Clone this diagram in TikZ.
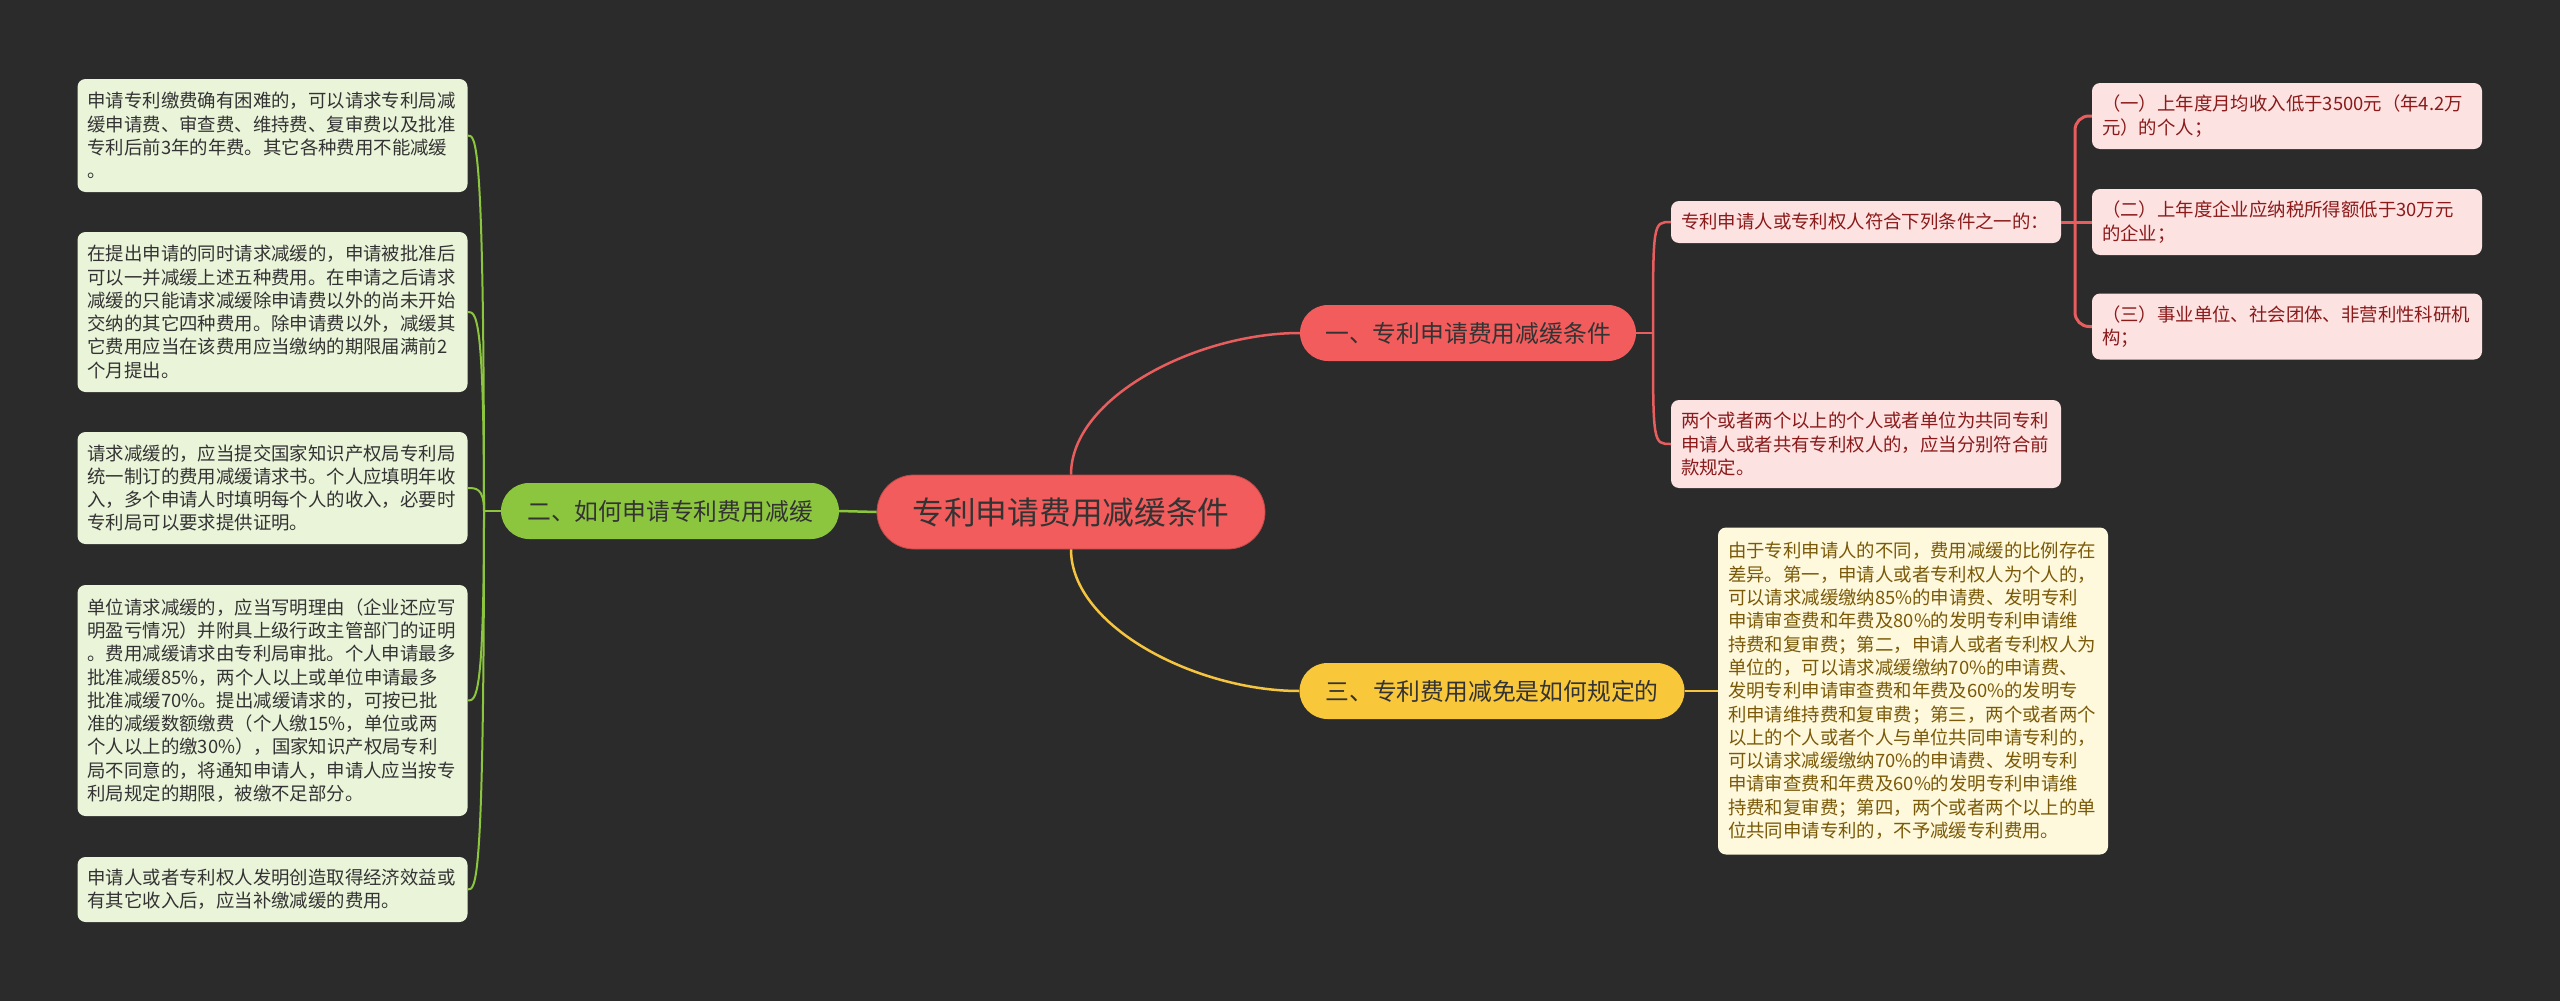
\documentclass[tikz,border=0pt]{standalone}
\usepackage{fontspec}
\setmainfont{Noto Sans CJK SC}
\definecolor{bg}{HTML}{2B2B2B}
\definecolor{cred}{HTML}{F25C5C}
\definecolor{lred}{HTML}{E85D5D}
\definecolor{cgreen}{HTML}{8CC63E}
\definecolor{cyellow}{HTML}{F9C73A}
\definecolor{lyel}{HTML}{F5C542}
\definecolor{lgreen}{HTML}{EAF4D9}
\definecolor{lpink}{HTML}{FDE2E2}
\definecolor{lyellow}{HTML}{FEF8DC}
\definecolor{tred}{HTML}{8B1A1A}
\definecolor{tyel}{HTML}{7A5A08}
\definecolor{tdark}{HTML}{333333}
\begin{document}
\begin{tikzpicture}[x=1pt,y=-1pt,
  leafbase/.style={rounded corners=8pt, inner xsep=10pt, inner ysep=0pt, align=left,
    text width=370pt, anchor=center, font=\fontsize{18.4pt}{23.3pt}\selectfont},
  leafg/.style={leafbase, fill=lgreen, text=tdark},
  leafp/.style={leafbase, fill=lpink, text=tred},
  leafy/.style={leafbase, fill=lyellow, text=tyel},
  pill/.style={rounded corners=28pt, inner sep=0pt, align=center, text=tdark,
    minimum height=56pt, font=\fontsize{23.8pt}{28pt}\selectfont},
  conn/.style={line width=2.5pt},
]
\fill[bg] (0,0) rectangle (2560,1001);
\useasboundingbox (0,0) rectangle (2560,1001);

% center and branches
\node[pill, fill=cred, draw=cred!80!black, line width=0.8pt, rounded corners=37pt,
  minimum width=388pt, minimum height=74pt, font=\fontsize{31.7pt}{36pt}\selectfont]
  (c) at (1071,512) {专利申请费用减缓条件};
\node[pill, fill=cred, minimum width=336pt] (b1) at (1468,333) {一、专利申请费用减缓条件};
\node[pill, fill=cgreen, minimum width=338pt] (b2) at (670,511) {二、如何申请专利费用减缓};
\node[pill, fill=cyellow, minimum width=385pt] (b3) at (1492,691) {三、专利费用减免是如何规定的};

% left leaves
\node[leafg, minimum height=113pt] (L1) at (272.5,135.5) {申请专利缴费确有困难的，可以请求专利局减\\缓申请费、审查费、维持费、复审费以及批准\\专利后前3年的年费。其它各种费用不能减缓\\。};
\node[leafg, minimum height=160pt] (L2) at (272.5,312) {在提出申请的同时请求减缓的，申请被批准后\\可以一并减缓上述五种费用。在申请之后请求\\减缓的只能请求减缓除申请费以外的尚未开始\\交纳的其它四种费用。除申请费以外，减缓其\\它费用应当在该费用应当缴纳的期限届满前2\\个月提出。};
\node[leafg, minimum height=112pt] (L3) at (272.5,488) {请求减缓的，应当提交国家知识产权局专利局\\统一制订的费用减缓请求书。个人应填明年收\\入，多个申请人时填明每个人的收入，必要时\\专利局可以要求提供证明。};
\node[leafg, minimum height=231pt] (L4) at (272.5,700.5) {单位请求减缓的，应当写明理由（企业还应写\\明盈亏情况）并附具上级行政主管部门的证明\\。费用减缓请求由专利局审批。个人申请最多\\批准减缓85\%，两个人以上或单位申请最多\\批准减缓70\%。提出减缓请求的，可按已批\\准的减缓数额缴费（个人缴15\%，单位或两\\个人以上的缴30\%），国家知识产权局专利\\局不同意的，将通知申请人，申请人应当按专\\利局规定的期限，被缴不足部分。};
\node[leafg, minimum height=65pt] (L5) at (272.5,889.5) {申请人或者专利权人发明创造取得经济效益或\\有其它收入后，应当补缴减缓的费用。};

% right pink leaves
\node[leafp, minimum height=42pt] (P1) at (1866,222) {专利申请人或专利权人符合下列条件之一的：};
\node[leafp, minimum height=88pt] (P2) at (1866,444) {两个或者两个以上的个人或者单位为共同专利\\申请人或者共有专利权人的，应当分别符合前\\款规定。};
\node[leafp, minimum height=66pt] (Pa) at (2287,116) {（一）上年度月均收入低于3500元（年4.2万\\元）的个人；};
\node[leafp, minimum height=66pt] (Pb) at (2287,222) {（二）上年度企业应纳税所得额低于30万元\\的企业；};
\node[leafp, minimum height=66pt] (Pc) at (2287,326.5) {（三）事业单位、社会团体、非营利性科研机\\构；};

% yellow leaf
\node[leafy, minimum height=327pt] (Y) at (1913,691) {由于专利申请人的不同，费用减缓的比例存在\\差异。第一，申请人或者专利权人为个人的，\\可以请求减缓缴纳85\%的申请费、发明专利\\申请审查费和年费及80\%的发明专利申请维\\持费和复审费；第二，申请人或者专利权人为\\单位的，可以请求减缓缴纳70\%的申请费、\\发明专利申请审查费和年费及60\%的发明专\\利申请维持费和复审费；第三，两个或者两个\\以上的个人或者个人与单位共同申请专利的，\\可以请求减缓缴纳70\%的申请费、发明专利\\申请审查费和年费及60\%的发明专利申请维\\持费和复审费；第四，两个或者两个以上的单\\位共同申请专利的，不予减缓专利费用。};

% connectors: center to branches
\draw[conn, lred] (c.north) .. controls (1071,397) and (1197,333) .. (b1.west);
\draw[conn, lyel] (c.south) .. controls (1071,627) and (1197,691) .. (b3.west);
\draw[conn, cgreen] (c.west) -- (b2.east);

% branch 2 to left leaves
\coordinate (f2) at (484,511);
\draw[conn, cgreen] (b2.west) -- (f2);
\foreach \n in {L1,L2,L3,L4,L5}{
  \draw[cgreen, line width=2pt] (f2) .. controls (f2 |- \n.east) and (476,0 |- \n.east) .. (\n.east);
}

% branch 1 to pink leaves
\coordinate (f1) at (1653,333);
\draw[conn, lred] (b1.east) -- (f1);
\draw[conn, lred] (f1) .. controls (f1 |- P1.west) .. (P1.west);
\draw[conn, lred] (f1) .. controls (f1 |- P2.west) .. (P2.west);

% P1 to its children
\coordinate (f3) at (2075,222);
\draw[line width=3pt, lred] (P1.east) -- (Pb.west);
\draw[line width=3pt, lred, rounded corners=14pt] (f3) |- (Pa.west);
\draw[line width=3pt, lred, rounded corners=14pt] (f3) |- (Pc.west);

% branch 3 to yellow leaf
\draw[conn, lyel] (b3.east) -- (Y.west);
\end{tikzpicture}
\end{document}
